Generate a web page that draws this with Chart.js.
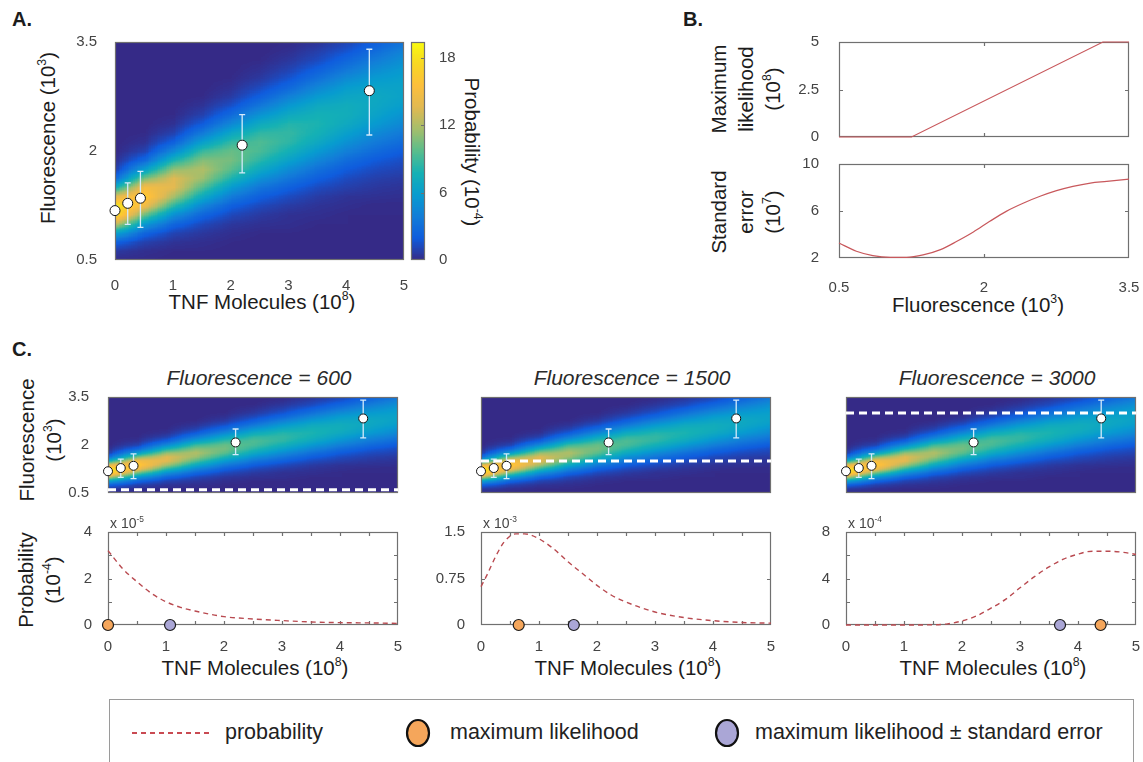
<!DOCTYPE html>
<html>
<head>
<meta charset="utf-8">
<title>TNF fluorescence likelihood</title>
<script src="https://cdn.jsdelivr.net/npm/chart.js@4.4.1/dist/chart.umd.min.js"></script>
<style>
  html, body { margin: 0; padding: 0; background: #fff; }
  body { position: relative; width: 1143px; height: 762px; overflow: hidden;
         font-family: "Liberation Sans", Arial, sans-serif; color: #1c1c1c; }
  .t { position: absolute; white-space: nowrap; line-height: 1; font-size: 20.5px; transform: translate(-50%, -50%); }
  .up { transform: translate(-50%, -50%) rotate(-90deg); text-align: center; line-height: 27px; }
  .down { transform: translate(-50%, -50%) rotate(90deg); }
  .ttl { font-size: 21px; font-style: italic; color: #2a2a2a; }
  .pl { position: absolute; font-weight: bold; font-size: 20px; line-height: 1; }
  .mult { position: absolute; font-size: 14px; color: #444; line-height: 1; transform: translateY(-50%); white-space: nowrap; }
  .s { font-size: 0.6em; position: relative; top: -0.7em; }
  #legend { position: absolute; left: 109px; top: 699px; width: 1023px; height: 90px; border: 1.5px solid #9a9a9a; border-bottom: none; }
  .lg { position: absolute; top: 733px; transform: translateY(-50%); font-size: 21.5px; line-height: 1; color: #222; white-space: nowrap; }
</style>
</head>
<body>

<div class="pl" style="left:12px;top:9px">A.</div>
<div class="pl" style="left:683px;top:9px">B.</div>
<div class="pl" style="left:12px;top:339px">C.</div>

<div class="t up" style="left:49px;top:138px">Fluorescence (10<span class="s">3</span>)</div>
<div class="t" style="left:262px;top:302px">TNF Molecules (10<span class="s">8</span>)</div>
<div class="t down" style="left:472px;top:152px">Probability (10<span class="s">-4</span>)</div>

<div class="t up" style="left:747px;top:89px">Maximum<br>likelihood<br>(10<span class="s">8</span>)</div>
<div class="t up" style="left:747px;top:212px">Standard<br>error<br>(10<span class="s">7</span>)</div>
<div class="t" style="left:978px;top:305px">Fluorescence (10<span class="s">3</span>)</div>

<div class="t up" style="left:42px;top:440px">Fluorescence<br>(10<span class="s">3</span>)</div>
<div class="t up" style="left:41px;top:580px">Probability<br>(10<span class="s">-4</span>)</div>

<div id="legend"></div>
<svg style="position:absolute;left:0;top:0" width="1143" height="762">
  <line x1="132" y1="733" x2="213" y2="733" stroke="#c94a52" stroke-width="2" stroke-dasharray="5 4"/>
  <ellipse cx="418" cy="733" rx="11" ry="13" fill="#f5a65b" stroke="#111" stroke-width="2.2"/>
  <ellipse cx="727" cy="733" rx="11" ry="13" fill="#aaa6d6" stroke="#111" stroke-width="2.2"/>
</svg>
<div class="lg" style="left:225px">probability</div>
<div class="lg" style="left:450px">maximum likelihood</div>
<div class="lg" style="left:755px">maximum likelihood ± standard error</div>

<script>
// ---- heatmap of P(fluorescence | TNF), values in 1e-4 ----
const tnfGrid = [0, 0.5, 1, 1.5, 2, 2.5, 3, 3.5, 4, 4.5, 5];
const fluoGrid = [0.5, 0.625, 0.75, 0.875, 1, 1.125, 1.25, 1.375, 1.5, 1.625, 1.75, 1.875,
                  2, 2.125, 2.25, 2.375, 2.5, 2.625, 2.75, 2.875, 3, 3.125, 3.25, 3.375, 3.5];
// one row per fluorescence level (bottom to top), one column per TNF level
const probGrid = [
  [0.1, 0.1, 0, 0, 0, 0, 0, 0, 0, 0, 0],
  [0.6, 0.2, 0.1, 0.1, 0, 0, 0, 0, 0, 0, 0],
  [2.3, 0.9, 0.4, 0.2, 0.1, 0, 0, 0, 0, 0, 0],
  [6.4, 2.5, 1.1, 0.5, 0.2, 0.1, 0.1, 0, 0, 0, 0],
  [12.6, 5.7, 2.6, 1.2, 0.5, 0.3, 0.2, 0.1, 0.1, 0, 0],
  [17.9, 10.2, 5.1, 2.5, 1.2, 0.6, 0.3, 0.2, 0.1, 0.1, 0.1],
  [18.5, 14.6, 8.5, 4.4, 2.2, 1.2, 0.7, 0.4, 0.2, 0.1, 0.1],
  [13.8, 16.5, 11.8, 7.0, 3.8, 2.1, 1.3, 0.7, 0.4, 0.3, 0.2],
  [7.5, 14.9, 13.8, 9.5, 5.8, 3.4, 2.2, 1.3, 0.8, 0.5, 0.4],
  [2.9, 10.6, 13.6, 11.4, 8.0, 5.1, 3.4, 2.1, 1.3, 0.8, 0.6],
  [0.8, 6.0, 11.2, 12.0, 9.7, 6.9, 4.8, 3.1, 2.0, 1.3, 1.0],
  [0.2, 2.7, 7.8, 10.9, 10.5, 8.4, 6.3, 4.4, 2.9, 1.9, 1.4],
  [0, 1.0, 4.6, 8.8, 10.1, 9.3, 7.6, 5.7, 4.0, 2.8, 2.0],
  [0, 0.3, 2.2, 6.1, 8.7, 9.4, 8.5, 6.9, 5.2, 3.7, 2.8],
  [0, 0.1, 0.9, 3.7, 6.7, 8.6, 8.7, 7.7, 6.2, 4.7, 3.6],
  [0, 0, 0.3, 2.0, 4.6, 7.1, 8.2, 8.0, 7.0, 5.7, 4.5],
  [0, 0, 0.1, 0.9, 2.8, 5.3, 7.0, 7.7, 7.4, 6.4, 5.2],
  [0, 0, 0, 0.4, 1.5, 3.6, 5.6, 7.0, 7.3, 6.8, 5.9],
  [0, 0, 0, 0.1, 0.7, 2.2, 4.1, 5.8, 6.7, 6.9, 6.3],
  [0, 0, 0, 0, 0.3, 1.3, 2.7, 4.5, 5.9, 6.5, 6.4],
  [0, 0, 0, 0, 0.1, 0.6, 1.7, 3.2, 4.8, 5.8, 6.2],
  [0, 0, 0, 0, 0, 0.3, 1.0, 2.2, 3.6, 4.9, 5.8],
  [0, 0, 0, 0, 0, 0.1, 0.5, 1.3, 2.6, 3.9, 5.1],
  [0, 0, 0, 0, 0, 0, 0.2, 0.8, 1.7, 3.0, 4.3],
  [0, 0, 0, 0, 0, 0, 0.1, 0.4, 1.1, 2.1, 3.4]
];
const probMax = 19.4;
const cbarTicks = [0, 6, 12, 18];

// measured points with error bars
const ptTnf = [0, 0.22, 0.44, 2.2, 4.4];
const ptFluo = [1.18, 1.28, 1.35, 2.08, 2.83];
const ptLow = [1.12, 0.99, 0.95, 1.7, 2.22];
const ptHigh = [1.24, 1.56, 1.72, 2.5, 3.4];

const tnfTicks = [0, 1, 2, 3, 4, 5];
const tnfMinor = [0.5, 1, 1.5, 2, 2.5, 3, 3.5, 4, 4.5];
const fluoTicks = [0.5, 2, 3.5];

// panel B
const mlFluo = [0.5, 1.25, 3.23, 3.5];
const mlValue = [0, 0, 5, 5];
const mlTicks = [0, 2.5, 5];
const seFluo = [0.5, 0.68, 0.85, 1.03, 1.2, 1.37, 1.55, 1.72, 1.89, 2.06, 2.23, 2.41, 2.58, 2.75, 2.92, 3.1, 3.27, 3.5];
const seValue = [3.28, 2.57, 2.2, 2.06, 2.06, 2.26, 2.71, 3.42, 4.21, 5.12, 5.97, 6.68, 7.25, 7.73, 8.1, 8.38, 8.52, 8.72];
const seTicks = [2, 6, 10];

// panel C
const cutFluo = [0.6, 1.5, 3.0];
const cutTitles = ['Fluorescence = 600', 'Fluorescence = 1500', 'Fluorescence = 3000'];
const probTnf = [
  [0, 0.25, 0.5, 0.75, 1, 1.25, 1.5, 2, 2.5, 3, 3.5, 4, 4.5, 5],
  [0, 0.1, 0.25, 0.4, 0.6, 0.75, 1, 1.25, 1.5, 1.75, 2, 2.25, 2.5, 3, 3.5, 4, 4.5, 5],
  [0, 0.5, 1, 1.5, 1.75, 2, 2.25, 2.5, 2.75, 3, 3.25, 3.5, 3.75, 4, 4.25, 4.5, 4.75, 5]
];
const probVal = [
  [3.2, 2.43, 1.86, 1.36, 1.0, 0.76, 0.6, 0.36, 0.26, 0.19, 0.13, 0.1, 0.09, 0.07],
  [0.62, 0.8, 1.1, 1.34, 1.47, 1.47, 1.39, 1.23, 1.02, 0.83, 0.64, 0.48, 0.37, 0.21, 0.12, 0.07, 0.04, 0.03],
  [0, 0, 0, 0.02, 0.1, 0.35, 0.78, 1.45, 2.2, 3.2, 4.16, 5.0, 5.66, 6.1, 6.35, 6.35, 6.27, 6.07]
];
const probTicks = [[0, 2, 4], [0, 0.75, 1.5], [0, 4, 8]];
const probMinor = [[1, 2, 3], [0.75], [2, 4, 6]];
const probExp = ['-5', '-3', '-4'];
const mlTnf = [0, 0.65, 4.39];
const seTnf = [1.07, 1.6, 3.69];

// ---- styling ----
Chart.defaults.font.family = '"Liberation Sans", Arial, sans-serif';
Chart.defaults.font.size = 15;
Chart.defaults.color = '#444';
Chart.defaults.animation = false;
Chart.defaults.maintainAspectRatio = false;
Chart.defaults.plugins.legend.display = false;
Chart.defaults.plugins.tooltip.enabled = false;

// parula-like colormap
const parula = [[53, 42, 135], [15, 92, 221], [18, 125, 216], [7, 156, 207], [21, 177, 180], [89, 189, 140],
                [165, 190, 107], [225, 185, 82], [252, 191, 60], [248, 215, 35], [249, 251, 14]];
const lut = [];
for (let i = 0; i < 256; i++) {
  const t = i / 255 * (parula.length - 1);
  const k = Math.min(Math.floor(t), parula.length - 2), f = t - k;
  lut.push(parula[k].map((c, j) => Math.round(c + (parula[k + 1][j] - c) * f)));
}

const heatPlugin = {
  id: 'heat',
  beforeDatasetsDraw(chart) {
    const { ctx, chartArea: a, scales: { x, y } } = chart;
    const nx = tnfGrid.length, ny = fluoGrid.length;
    const small = document.createElement('canvas');
    small.width = nx; small.height = ny;
    const sctx = small.getContext('2d');
    const img = sctx.createImageData(nx, ny);
    for (let r = 0; r < ny; r++) {
      for (let c = 0; c < nx; c++) {
        const g = Math.round(Math.min(1, probGrid[ny - 1 - r][c] / probMax) * 255);
        const k = (r * nx + c) * 4;
        img.data[k] = img.data[k + 1] = img.data[k + 2] = g;
        img.data[k + 3] = 255;
      }
    }
    sctx.putImageData(img, 0, 0);
    const w = Math.round(a.right - a.left), h = Math.round(a.bottom - a.top);
    const big = document.createElement('canvas');
    big.width = w; big.height = h;
    const bctx = big.getContext('2d');
    bctx.imageSmoothingEnabled = true;
    const cw = x.getPixelForValue(tnfGrid[1]) - x.getPixelForValue(tnfGrid[0]);
    const ch = y.getPixelForValue(fluoGrid[0]) - y.getPixelForValue(fluoGrid[1]);
    const x0 = x.getPixelForValue(tnfGrid[0]) - cw / 2 - a.left;
    const y0 = y.getPixelForValue(fluoGrid[ny - 1]) - ch / 2 - a.top;
    bctx.drawImage(small, x0, y0, cw * nx, ch * ny);
    const d = bctx.getImageData(0, 0, w, h);
    for (let i = 0; i < d.data.length; i += 4) {
      const col = lut[d.data[i]];
      d.data[i] = col[0]; d.data[i + 1] = col[1]; d.data[i + 2] = col[2]; d.data[i + 3] = 255;
    }
    bctx.putImageData(d, 0, 0);
    ctx.drawImage(big, a.left, a.top);
  }
};

const cbarPlugin = {
  id: 'cbar',
  beforeDatasetsDraw(chart) {
    const { ctx, chartArea: a, scales: { y } } = chart;
    for (let py = Math.floor(a.top); py < a.bottom; py++) {
      const v = y.getValueForPixel(py + 0.5);
      const col = lut[Math.max(0, Math.min(255, Math.round(v / probMax * 255)))];
      ctx.fillStyle = `rgb(${col[0]},${col[1]},${col[2]})`;
      ctx.fillRect(a.left, py, a.right - a.left, 1);
    }
  }
};

const errPlugin = {
  id: 'err',
  beforeDatasetsDraw(chart) {
    const { ctx, scales: { x, y } } = chart;
    ctx.save();
    ctx.strokeStyle = '#d4eafa';
    ctx.lineWidth = 1.3;
    ptTnf.forEach((t, i) => {
      const px = x.getPixelForValue(t), lo = y.getPixelForValue(ptLow[i]), hi = y.getPixelForValue(ptHigh[i]);
      ctx.beginPath();
      ctx.moveTo(px, lo); ctx.lineTo(px, hi);
      ctx.moveTo(px - 3, lo); ctx.lineTo(px + 3, lo);
      ctx.moveTo(px - 3, hi); ctx.lineTo(px + 3, hi);
      ctx.stroke();
    });
    ctx.restore();
  }
};

// box round the plot with short inward ticks, MATLAB style
const framePlugin = {
  id: 'frame',
  beforeDatasetsDraw(chart, args, o) {
    const { ctx, chartArea: a, scales: { x, y } } = chart;
    ctx.save();
    ctx.strokeStyle = '#707070';
    ctx.lineWidth = 1.2;
    ctx.strokeRect(a.left + 0.5, a.top + 0.5, a.right - a.left - 1, a.bottom - a.top - 1);
    const L = 4;
    ctx.beginPath();
    (o.xt || []).forEach(v => {
      const p = Math.round(x.getPixelForValue(v)) + 0.5;
      ctx.moveTo(p, a.bottom); ctx.lineTo(p, a.bottom - L);
      ctx.moveTo(p, a.top); ctx.lineTo(p, a.top + L);
    });
    (o.yt || []).forEach(v => {
      const p = Math.round(y.getPixelForValue(v)) + 0.5;
      if (!o.rightOnly) { ctx.moveTo(a.left, p); ctx.lineTo(a.left + L, p); }
      ctx.moveTo(a.right, p); ctx.lineTo(a.right - L, p);
    });
    ctx.stroke();
    ctx.restore();
  }
};

function axis(min, max, ticks, show, pad) {
  return {
    type: 'linear', min, max,
    grid: { display: false }, border: { display: false },
    afterBuildTicks: s => { s.ticks = ticks.map(v => ({ value: v })); },
    ticks: { display: show, autoSkip: false, maxRotation: 0, padding: pad, callback: v => String(v) }
  };
}

function noPad(s) {
  s.paddingTop = 0; s.paddingBottom = 0; s.paddingLeft = 0; s.paddingRight = 0;
}

// put a chart so that its plot area lands on [left, top, right, bottom]
function place(area, m, cfg) {
  const [l, t, r, b] = area;
  const div = document.createElement('div');
  div.style.cssText = `position:absolute;left:${l - m.l}px;top:${t - m.t}px;width:${r - l + m.l + m.r}px;height:${b - t + m.t + m.b}px`;
  const cv = document.createElement('canvas');
  div.appendChild(cv);
  document.body.appendChild(div);
  const yRight = cfg.options.scales.y.position === 'right';
  cfg.options.layout = { autoPadding: false, padding: { left: yRight ? m.l : 0, right: yRight ? 0 : m.r, top: m.t, bottom: 0 } };
  cfg.options.scales.x.afterFit = s => { s.height = m.b; noPad(s); };
  cfg.options.scales.y.afterFit = s => { s.width = yRight ? m.r : m.l; noPad(s); };
  return new Chart(cv, cfg);
}

function pointsDs(radius) {
  return {
    data: ptTnf.map((x, i) => ({ x, y: ptFluo[i] })),
    backgroundColor: '#ffffff', borderColor: '#151515', borderWidth: 1,
    pointRadius: radius, clip: false
  };
}

// ---- A ----
place([115, 42, 404, 260], { l: 60, r: 8, t: 12, b: 30 }, {
  type: 'scatter',
  data: { datasets: [pointsDs(5)] },
  options: {
    scales: { x: axis(0, 5, tnfTicks, true, 9), y: axis(0.5, 3.5, fluoTicks, true, 10) },
    plugins: { frame: {} }
  },
  plugins: [heatPlugin, framePlugin, errPlugin]
});

const cbarY = axis(0, probMax, cbarTicks, true, 6);
cbarY.position = 'right';
place([411, 42, 425, 260], { l: 2, r: 40, t: 12, b: 12 }, {
  type: 'scatter',
  data: { datasets: [] },
  options: {
    scales: { x: axis(0, 1, [], false, 0), y: cbarY },
    plugins: { frame: { yt: cbarTicks.slice(1), rightOnly: true } }
  },
  plugins: [cbarPlugin, framePlugin]
});

// ---- B ----
place([839, 42, 1129, 137], { l: 50, r: 16, t: 12, b: 12 }, {
  type: 'scatter',
  data: { datasets: [{
    data: mlFluo.map((x, i) => ({ x, y: mlValue[i] })),
    showLine: true, borderColor: '#c8585c', borderWidth: 1.2, pointRadius: 0, clip: false
  }] },
  options: {
    scales: { x: axis(0.5, 3.5, fluoTicks, false, 0), y: axis(0, 5, mlTicks, true, 12) },
    plugins: { frame: { xt: [2], yt: [2.5] } }
  },
  plugins: [framePlugin]
});

place([839, 164, 1129, 258], { l: 50, r: 16, t: 12, b: 34 }, {
  type: 'scatter',
  data: { datasets: [{
    data: seFluo.map((x, i) => ({ x, y: seValue[i] })),
    showLine: true, borderColor: '#c8585c', borderWidth: 1.2, pointRadius: 0,
    cubicInterpolationMode: 'monotone', clip: false
  }] },
  options: {
    scales: { x: axis(0.5, 3.5, fluoTicks, true, 13), y: axis(2, 10, seTicks, true, 12) },
    plugins: { frame: { xt: [2], yt: [6] } }
  },
  plugins: [framePlugin]
});

// ---- C ----
const colLeft = [108, 481, 846];
cutFluo.forEach((cut, i) => {
  const l = colLeft[i];

  const title = document.createElement('div');
  title.className = 't ttl';
  title.style.left = (l + 151) + 'px';
  title.style.top = '377px';
  title.textContent = cutTitles[i];
  document.body.appendChild(title);

  place([l, 397, l + 290, 493], { l: 45, r: 10, t: 8, b: 12 }, {
    type: 'scatter',
    data: { datasets: [
      pointsDs(4.5),
      { data: [{ x: 0, y: cut }, { x: 5, y: cut }], showLine: true, borderColor: '#ffffff',
        borderWidth: 3, borderDash: [8, 5], pointRadius: 0 }
    ] },
    options: {
      scales: { x: axis(0, 5, tnfTicks, false, 0), y: axis(0.5, 3.5, fluoTicks, i === 0, 11) },
      plugins: { frame: {} }
    },
    plugins: [heatPlugin, framePlugin, errPlugin]
  });

  const top = probTicks[i][probTicks[i].length - 1];
  place([l, 532, l + 290, 625], { l: 45, r: 12, t: 10, b: 28 }, {
    type: 'scatter',
    data: { datasets: [
      { data: [{ x: mlTnf[i], y: 0 }], backgroundColor: '#f5a65b', borderColor: '#1a1a1a', borderWidth: 1.2, pointRadius: 5.5, clip: false },
      { data: [{ x: seTnf[i], y: 0 }], backgroundColor: '#aaa6d6', borderColor: '#1a1a1a', borderWidth: 1.2, pointRadius: 5.5, clip: false },
      { data: probTnf[i].map((x, k) => ({ x, y: probVal[i][k] })), showLine: true, borderColor: '#b94a50',
        borderWidth: 1.4, borderDash: [5, 4], pointRadius: 0, cubicInterpolationMode: 'monotone', clip: false }
    ] },
    options: {
      scales: { x: axis(0, 5, tnfTicks, true, 5), y: axis(0, top, probTicks[i], true, 8) },
      plugins: { frame: { xt: tnfMinor, yt: probMinor[i] } }
    },
    plugins: [framePlugin]
  });

  const mult = document.createElement('div');
  mult.className = 'mult';
  mult.style.left = (l + 2) + 'px';
  mult.style.top = '523px';
  mult.innerHTML = 'x 10<span class="s">' + probExp[i] + '</span>';
  document.body.appendChild(mult);

  const xl = document.createElement('div');
  xl.className = 't';
  xl.style.left = (l + 147) + 'px';
  xl.style.top = '668px';
  xl.innerHTML = 'TNF Molecules (10<span class="s">8</span>)';
  document.body.appendChild(xl);
});
</script>
</body>
</html>
